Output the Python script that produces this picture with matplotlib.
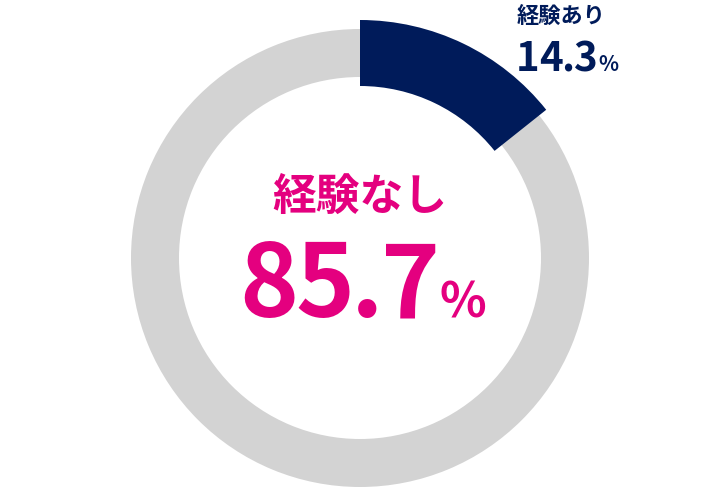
import matplotlib
matplotlib.use("Agg")
import matplotlib.pyplot as plt
from matplotlib.patches import Wedge

plt.rcParams['font.family'] = ['Noto Sans CJK JP', 'DejaVu Sans']

# data
labels = ['経験あり', '経験なし']
shares = [14.3, 85.7]
colors = ['#001B5A', '#D3D3D3']
pink = '#E4007F'

W, H = 720, 498
fig = plt.figure(figsize=(W / 100, H / 100), dpi=100)
ax = fig.add_axes([0, 0, 1, 1])
ax.set_xlim(0, W)
ax.set_ylim(0, H)
ax.set_aspect('equal')
ax.axis('off')

cx, cy = 360, H - 258

# gray ring under everything
ax.add_patch(Wedge((cx, cy), 229, 0, 360, width=48, color=colors[1], lw=0))

# highlighted slice, starts at 12 o'clock and runs clockwise
theta = 360 * shares[0] / sum(shares)
ax.add_patch(Wedge((cx, cy), 238, 90 - theta, 90, width=66, color=colors[0], lw=0))

inv = ax.transData.inverted()


def number_with_pct(x, y, val, size, pct_size, color, track, gap):
    # set the digits one by one so the spacing can be tightened like the original
    for ch in f'{val}':
        t = ax.text(x, y, ch, color=color, fontsize=size, fontweight='bold',
                    ha='left', va='baseline')
        fig.canvas.draw()
        x = t.get_window_extent().transformed(inv).x1 + track
    ax.text(x - track + gap, y, '%', color=color, fontsize=pct_size,
            fontweight='bold', ha='left', va='baseline')


# centre text
ax.text(cx, H - 197, labels[1], color=pink, fontsize=31.5, fontweight='bold',
        ha='center', va='center')
number_with_pct(239, H - 317, shares[1], 72, 35, pink, -3, 0)

# label for the small slice
ax.text(517, H - 16, labels[0], color=colors[0], fontsize=16, fontweight='bold',
        ha='left', va='center')
number_with_pct(516, H - 71, shares[0], 29, 15, colors[0], -1, 1)

fig.savefig('out.png', dpi=100)
